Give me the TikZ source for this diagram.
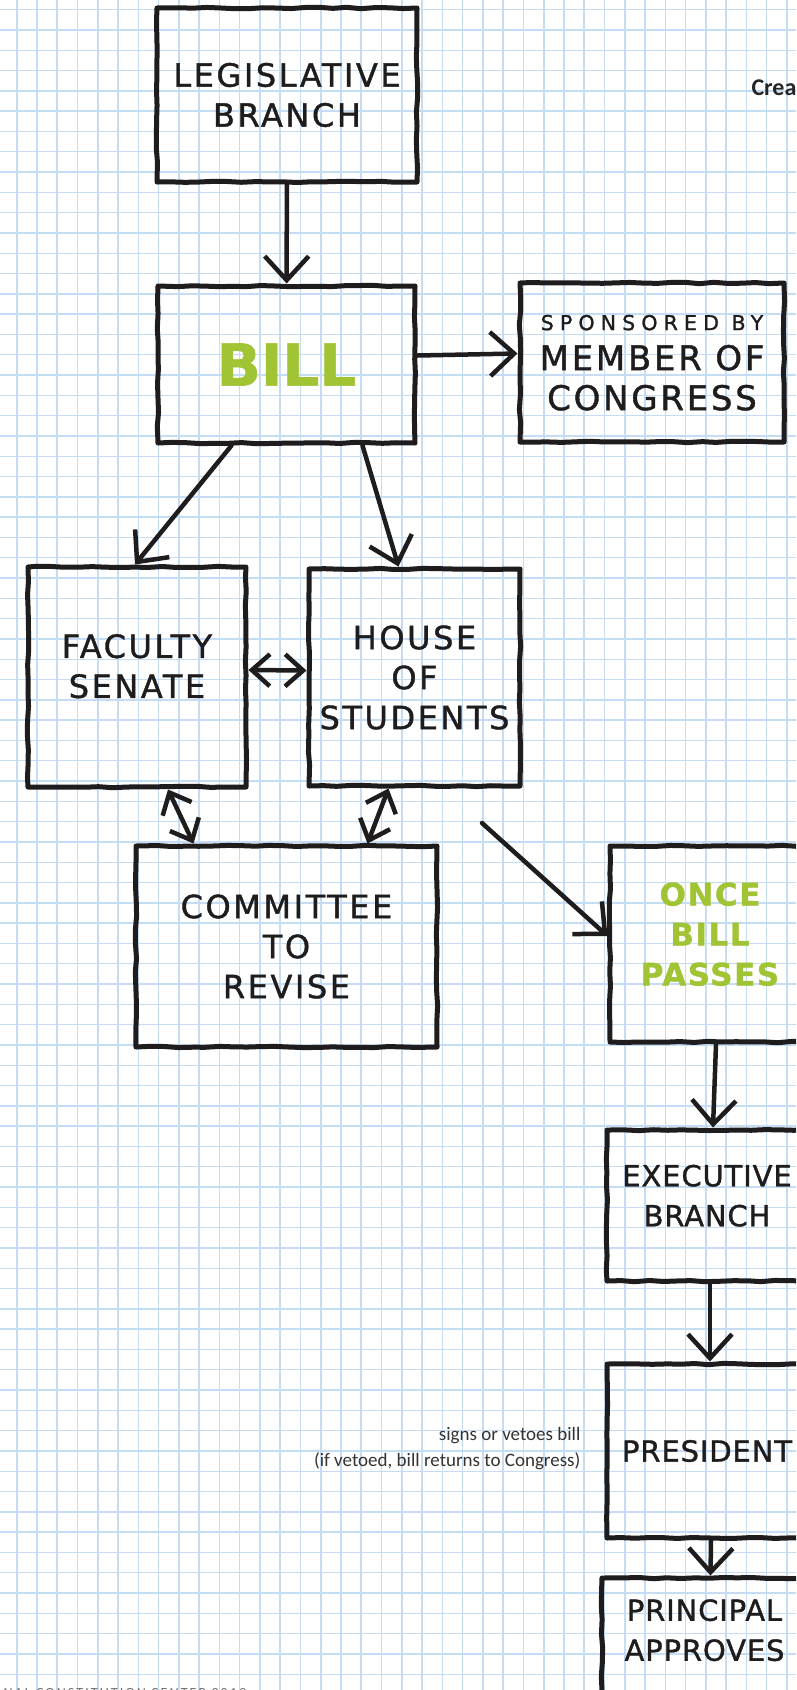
\documentclass[tikz,border=0pt]{standalone}
\usepackage{fontspec}
\usetikzlibrary{arrows.meta,decorations.pathmorphing}

\newfontfamily\handfont{DejaVu Sans}[LetterSpace=8, FakeBold=1.2]
\newfontfamily\notefont{Carlito}
\newfontfamily\creditfont{Carlito}[LetterSpace=15]
\definecolor{gridblue}{RGB}{196,220,244}
\definecolor{billgreen}{RGB}{160,196,52}
\definecolor{inkblack}{RGB}{30,28,28}

\begin{document}
\begin{tikzpicture}[x=1pt, y=-1pt,
  box/.style = {shape=rectangle, draw=inkblack, line width=5pt,
    line join=round, align=center, inner sep=0pt, text=inkblack,
    font=\handfont\fontsize{32}{40}\selectfont,
    decoration={random steps, segment length=14pt, amplitude=0.7pt},
    decorate},
  narrowtext/.style = {font=\handfont\fontsize{29}{40}\selectfont\addfontfeatures{LetterSpace=3}},
  passtext/.style = {text=billgreen,
    font=\handfont\bfseries\fontsize{31}{40}\selectfont\addfontfeatures{LetterSpace=5}},
  flow/.style = {draw=inkblack, line width=4.5pt, line cap=round,
    -{Straight Barb[length=24pt, width=44pt, line width=4.5pt]}},
  twoway/.style = {draw=inkblack, line width=4.5pt,
    {Straight Barb[length=18pt, width=32pt, line width=4.5pt]}-{Straight Barb[length=18pt, width=32pt, line width=4.5pt]}},
  gridline/.style = {draw=gridblue, line width=1.4pt},
  note/.style = {font=\notefont\fontsize{19}{26}\selectfont,
    text=black!80, align=right}]
  \pgfmathsetseed{7}
  \useasboundingbox (0,0) rectangle (796,1690);
  \fill[white] (0,0) rectangle (796,1690);
  \clip (0,0) rectangle (796,1690);

  % graph paper
  \foreach \i in {0,...,38}
    \draw[gridline, line width=1.6pt] ({16.7+20.27*\i},0) -- ++(0,1690);
  \foreach \j in {0,...,82}
    \draw[gridline] (0,{9.6+20.3*\j}) -- ++(796,0);

  % congress side
  \node[box, minimum width=260pt, minimum height=174pt] (leg) at (287,95)
    {LEGISLATIVE\\BRANCH};
  \node[box, minimum width=257pt, minimum height=157pt, text=billgreen,
    font=\handfont\bfseries\fontsize{58}{60}\selectfont\addfontfeatures{LetterSpace=0}] (bill) at (286.5,364.5)
    {BILL};
  \node[box, minimum width=264pt, minimum height=159pt, text depth=-12pt,
    font=\handfont\fontsize{34}{40}\selectfont] (spons) at (652,362.5)
    {{\fontsize{20.5}{24}\selectfont\addfontfeatures{LetterSpace=30}SPONSORED BY}\\MEMBER OF\\CONGRESS};
  \node[box, minimum width=218pt, minimum height=220pt, text depth=22pt] (fac) at (137,677)
    {FACULTY\\SENATE};
  \node[box, minimum width=211pt, minimum height=217pt] (house) at (414.5,677.5)
    {HOUSE\\OF\\STUDENTS};
  \node[box, minimum width=301pt, minimum height=201pt] (comm) at (286.5,946.5)
    {COMMITTEE\\TO\\REVISE};

  % after the vote
  \node[box, passtext, minimum width=200pt, minimum height=196pt, text depth=20pt] (once) at (710,944)
    {ONCE\\BILL\\PASSES};
  \node[box, narrowtext, minimum width=200pt, minimum height=151pt, text depth=20pt] (exec) at (707,1205.5)
    {EXECUTIVE\\BRANCH};
  \node[box, narrowtext, minimum width=200pt, minimum height=174pt] (pres) at (707,1451)
    {PRESIDENT};
  \node[box, narrowtext, minimum width=205pt, minimum height=160pt, text depth=56pt] (princ) at (704.5,1658)
    {PRINCIPAL\\APPROVES};

  \node[note, anchor=east] (signs) at (584,1449)
    {signs or vetoes bill\\(if vetoed, bill returns to Congress)};
  \node[font=\notefont\bfseries\fontsize{24}{28}\selectfont, text=black!85,
    anchor=base west] (crea) at (748,95) {Crea};
  \node[font=\creditfont\fontsize{14}{16}\selectfont, text=black!55,
    anchor=north west] (credit) at (0,1685) {NAL CONSTITUTION CENTER 2019};

  % connectors
  \draw[flow] (leg) -- (bill);
  \draw[flow] ([yshift=9pt]bill.east) -- ([yshift=9pt]spons.west);
  \draw[flow] ([xshift=-55pt]bill.south) -- ([xshift=-2pt]fac.north);
  \draw[flow] ([xshift=76pt]bill.south) -- ([xshift=-16pt]house.north);
  \draw[twoway] ([yshift=7pt]fac.east) -- ([yshift=7pt]house.west);
  \draw[twoway] ([xshift=31pt]fac.south) -- ([xshift=-93pt]comm.north);
  \draw[twoway] ([xshift=-26pt]house.south) -- ([xshift=81pt]comm.north);
  \coordinate (loose) at (482,823);
  \draw[flow] (loose) -- ([yshift=8pt]once.west);
  \draw[flow] ([xshift=6pt]once.south) -- ([xshift=6pt]exec.north);
  \draw[flow] ([xshift=3pt]exec.south) -- ([xshift=3pt]pres.north);
  \draw[flow] ([xshift=4pt]pres.south) -- ([xshift=6pt]princ.north);
\end{tikzpicture}
\end{document}
